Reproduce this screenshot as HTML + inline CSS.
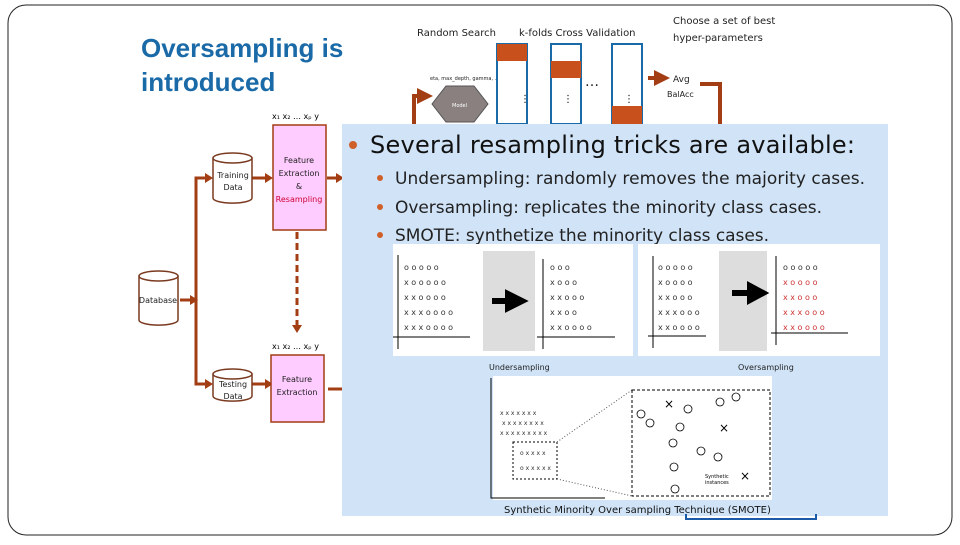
<!DOCTYPE html>
<html><head><meta charset="utf-8"><style>
body{margin:0;width:960px;height:540px;background:#fff;overflow:hidden;font-family:"Liberation Sans",sans-serif}
svg text{font-family:"DejaVu Sans","Liberation Sans",sans-serif}
</style></head><body>
<svg width="960" height="540" viewBox="0 0 960 540" xmlns="http://www.w3.org/2000/svg">
<defs><marker id="ar" markerWidth="4" markerHeight="4" refX="2" refY="2" orient="auto"><path d="M0,0 L4,2 L0,4z" fill="#a33d14"/></marker></defs>
<rect x="8" y="5" width="944" height="530" rx="18" fill="#fff" stroke="#222" stroke-width="1"/>
<text x="141" y="57" font-family="Liberation Sans" font-size="26" fill="#1a6aa8" font-weight="bold" style="font-family:'Liberation Sans'">Oversampling is</text>
<text x="141" y="91" font-size="26" fill="#1a6aa8" font-weight="bold" style="font-family:'Liberation Sans'">introduced</text>
<g font-size="10" fill="#222">
<text x="417" y="36">Random Search</text>
<text x="519" y="36">k-folds Cross Validation</text>
<text x="673" y="24">Choose a set of best</text>
<text x="673" y="41">hyper-parameters</text>
<text x="673" y="82" font-size="9">Avg</text>
<text x="667" y="97" font-size="8">BalAcc</text>
<text x="430" y="80" font-size="5">eta, max_depth, gamma, ..</text>
</g>
<polygon points="446,86 474,86 488,104 474,122 446,122 432,104" fill="#8a8080" stroke="#555"/>
<text x="452" y="107" font-size="5" fill="#fff">Model</text>
<path d="M414,124 V96 H425" stroke="#a33d14" stroke-width="4" fill="none" marker-end="url(#ar)"/>
<g fill="#fff" stroke="#1a6aa8" stroke-width="2">
<rect x="497" y="44" width="30" height="80"/><rect x="551" y="44" width="30" height="80"/><rect x="612" y="44" width="30" height="80"/>
</g>
<rect x="497" y="44" width="30" height="17" fill="#c8501c"/>
<rect x="551" y="61" width="30" height="17" fill="#c8501c"/>
<rect x="612" y="106" width="30" height="18" fill="#c8501c"/>
<text x="585" y="86" font-size="14" fill="#222">…</text>
<text x="520" y="102" font-size="10">⋮</text><text x="563" y="102" font-size="10">⋮</text><text x="624" y="102" font-size="10">⋮</text>
<path d="M648,78 H662" stroke="#a33d14" stroke-width="4" marker-end="url(#ar)"/>
<path d="M700,84 H720 V124" stroke="#a33d14" stroke-width="4" fill="none"/>
<text x="272" y="119" font-size="8">x₁ x₂ … xₚ y</text>
<text x="272" y="349" font-size="8">x₁ x₂ … xₚ y</text>
<g stroke="#a33d14" stroke-width="3" fill="none">
<path d="M196,300 V178 H205"/><path d="M196,300 V384 H205"/>
<path d="M180,300 H190"/><path d="M252,178 H265"/><path d="M252,384 H265"/><path d="M327,178 H336"/><path d="M328,389 H342"/>
<path d="M297,232 V325" stroke-dasharray="7,4"/>
</g>
<polygon points="205,173 213,178 205,183" fill="#a33d14"/><polygon points="205,379 213,384 205,389" fill="#a33d14"/>
<polygon points="265,173 273,178 265,183" fill="#a33d14"/><polygon points="265,379 273,384 265,389" fill="#a33d14"/>
<polygon points="190,295 198,300 190,305" fill="#a33d14"/><polygon points="336,173 344,178 336,183" fill="#a33d14"/>
<polygon points="292,325 302,325 297,333" fill="#a33d14"/>
<g fill="#fff" stroke="#7a3a20" stroke-width="1.5">
<path d="M139,276 V320 A19,5 0 0 0 178,320 V276"/><ellipse cx="158.5" cy="276" rx="19.5" ry="5"/>
<path d="M213,158 V198 A19,5 0 0 0 252,198 V158"/><ellipse cx="232.5" cy="158" rx="19.5" ry="5"/>
<path d="M213,374 V396 A19,5 0 0 0 252,396 V374"/><ellipse cx="232.5" cy="374" rx="19.5" ry="5"/>
</g>
<rect x="273" y="125" width="53" height="105" fill="#ffccff" stroke="#a33d14" stroke-width="1.5"/>
<rect x="271" y="355" width="53" height="67" fill="#ffccff" stroke="#a33d14" stroke-width="1.5"/>
<g font-size="8" fill="#222" text-anchor="middle">
<text x="158" y="303">Database</text>
<text x="233" y="178">Training</text><text x="233" y="190">Data</text>
<text x="233" y="387">Testing</text><text x="233" y="399">Data</text>
<text x="299" y="163">Feature</text><text x="299" y="176">Extraction</text><text x="299" y="189">&amp;</text>
<text x="299" y="202" fill="#cc0033">Resampling</text>
<text x="297" y="382">Feature</text><text x="297" y="395">Extraction</text>
</g>
<rect x="342" y="124" width="546" height="392" fill="#d0e3f7"/>
<circle cx="353" cy="145" r="4" fill="#d0602a"/>
<text x="370" y="153" font-size="24" fill="#111" style="font-family:'DejaVu Sans'" textLength="485">Several resampling tricks are available:</text>
<g font-size="17" fill="#222">
<circle cx="380" cy="178" r="3" fill="#d0602a"/><text x="395" y="184" textLength="470">Undersampling: randomly removes the majority cases.</text>
<circle cx="380" cy="207" r="3" fill="#d0602a"/><text x="395" y="213" textLength="427">Oversampling: replicates the minority class cases.</text>
<circle cx="380" cy="235" r="3" fill="#d0602a"/><text x="395" y="241" textLength="374">SMOTE: synthetize the minority class cases.</text>
</g>
<rect x="393" y="244" width="240" height="112" fill="#fff"/>
<rect x="638" y="244" width="242" height="112" fill="#fff"/>
<rect x="483" y="251" width="52" height="100" fill="#ddd"/>
<rect x="719" y="251" width="48" height="100" fill="#ddd"/>
<path d="M492,301 H508 V294 L522,301 L508,308 V301" fill="#000" stroke="#000" stroke-width="6"/>
<path d="M732,293 H750 V286 L763,293 L750,300 V293" fill="#000" stroke="#000" stroke-width="6"/>
<g stroke="#000" stroke-width="1">
<path d="M398,255 V349 M393,337 H470"/><path d="M543,259 V349 M537,337 H615"/>
<path d="M653,256 V348 M648,336 H706"/><path d="M776,256 V345 M771,333 H848"/>
</g>
<g font-size="8" fill="#333">
<text x="404" y="270">o o o o o</text><text x="404" y="285">x o o o o o</text><text x="404" y="300">x x o o o o</text><text x="404" y="315">x x x o o o o</text><text x="404" y="330">x x x o o o o</text>
<text x="550" y="270">o o o</text><text x="550" y="285">x o o o</text><text x="550" y="300">x x o o o</text><text x="550" y="315">x x o o</text><text x="550" y="330">x x o o o o</text>
<text x="658" y="270">o o o o o</text><text x="658" y="285">x o o o o</text><text x="658" y="300">x x o o o</text><text x="658" y="315">x x x o o o</text><text x="658" y="330">x x o o o o</text>
<text x="783" y="270">o o o o o</text><text x="783" y="285" fill="#c33">x o o o o</text><text x="783" y="300" fill="#c33">x x o o o</text><text x="783" y="315" fill="#c33">x x x o o o</text><text x="783" y="330" fill="#c33">x x o o o o</text>
</g>
<text x="489" y="370" font-size="8" fill="#222">Undersampling</text>
<text x="738" y="370" font-size="8" fill="#222">Oversampling</text>
<rect x="493" y="376" width="279" height="124" fill="#fff"/>
<path d="M491,378 V498 H605" stroke="#000" fill="none"/>
<rect x="513" y="442" width="44" height="37" fill="none" stroke="#000" stroke-dasharray="2,2"/>
<rect x="632" y="390" width="138" height="106" fill="none" stroke="#000" stroke-dasharray="3,2"/>
<path d="M557,442 L632,390 M557,479 L632,496" stroke="#555" stroke-dasharray="1,2"/>
<g font-size="6" fill="#333"><text x="500" y="415">x x x x x x x</text><text x="502" y="425">x x x x x x x x</text><text x="500" y="435">x x x x x x x x x</text><text x="520" y="455">o x x x x</text><text x="520" y="470">o x x x x x</text></g>
<g fill="none" stroke="#000" stroke-width="0.8"><circle cx="641" cy="414" r="4"/><circle cx="650" cy="423" r="4"/><circle cx="688" cy="409" r="4"/><circle cx="680" cy="427" r="4"/><circle cx="673" cy="443" r="4"/><circle cx="701" cy="451" r="4"/><circle cx="718" cy="457" r="4"/><circle cx="674" cy="467" r="4"/><circle cx="675" cy="489" r="4"/><circle cx="720" cy="402" r="4"/><circle cx="736" cy="397" r="4"/></g>
<text x="664" y="408" font-size="12">×</text><text x="719" y="432" font-size="12">×</text><text x="740" y="480" font-size="12">×</text>
<text x="705" y="478" font-size="5">Synthetic</text><text x="705" y="484" font-size="5">instances</text>
<text x="504" y="513" font-size="10" fill="#111">Synthetic Minority Over sampling Technique (SMOTE)</text>
<path d="M686,514 V519 H816 V514" stroke="#1a5aa8" stroke-width="2" fill="none"/>
</svg>
</body></html>
